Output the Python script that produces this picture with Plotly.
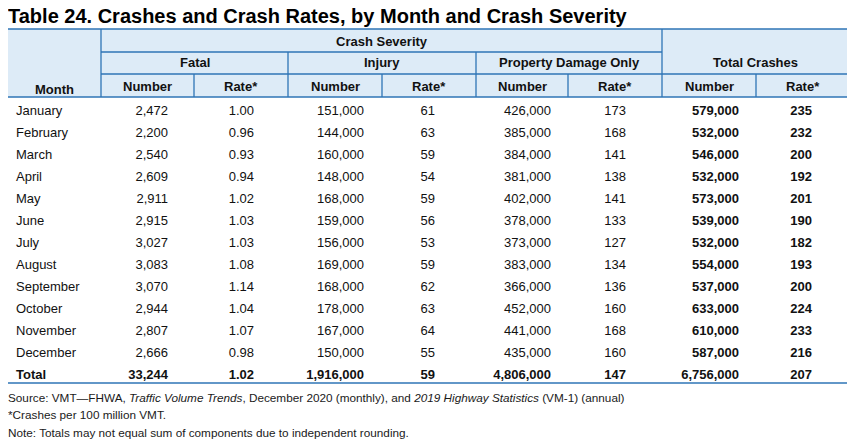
import plotly.graph_objects as go

# ---------------- data ----------------
months = ["January", "February", "March", "April", "May", "June", "July",
          "August", "September", "October", "November", "December"]
fatal_number = [2472, 2200, 2540, 2609, 2911, 2915, 3027, 3083, 3070, 2944, 2807, 2666]
fatal_rate = [1.00, 0.96, 0.93, 0.94, 1.02, 1.03, 1.03, 1.08, 1.14, 1.04, 1.07, 0.98]
injury_number = [151000, 144000, 160000, 148000, 168000, 159000, 156000, 169000,
                 168000, 178000, 167000, 150000]
injury_rate = [61, 63, 59, 54, 59, 56, 53, 59, 62, 63, 64, 55]
pdo_number = [426000, 385000, 384000, 381000, 402000, 378000, 373000, 383000,
              366000, 452000, 441000, 435000]
pdo_rate = [173, 168, 141, 138, 141, 133, 127, 134, 136, 160, 168, 160]
total_number = [579000, 532000, 546000, 532000, 573000, 539000, 532000, 554000,
                537000, 633000, 610000, 587000]
total_rate = [235, 232, 200, 192, 201, 190, 182, 193, 200, 224, 233, 216]

total_label = "Total"
totals_row = [33244, 1.02, 1916000, 59, 4806000, 147, 6756000, 207]

group_labels = ["Fatal", "Injury", "Property Damage Only", "Total Crashes"]
sub_labels = ["Number", "Rate*"]
title_text = "Table 24. Crashes and Crash Rates, by Month and Crash Severity"
footnotes = [
    "Source: VMT\u2014FHWA, <i>Traffic Volume Trends</i>, December 2020 (monthly), and "
    "<i>2019 Highway Statistics</i> (VM-1) (annual)",
    "*Crashes per 100 million VMT.",
    "Note: Totals may not equal sum of components due to independent rounding.",
]

# ---------------- layout helpers ----------------
# The page body has an 8px margin, so the figure is sized to fit the window
# and all positions below are given in window pixels, then converted.
OFF = 8
W, H = 855 - OFF, 447 - OFF
FONT = "Arial, Liberation Sans, sans-serif"
FILL = "#DDEBF7"
LINE = "#2E75B6"
TXT = "#111111"


def px(x):
    return (x - OFF) / W


def py(y):
    return 1 - (y - OFF) / H


def fmt_int(v):
    return f"{v:,}"


def fmt_rate2(v):
    return f"{v:.2f}"


def b(s):
    return f"<b>{s}</b>"


# monthly rows (plain strings, no markup, so rows keep their fixed height)
month_cols = [
    months,
    [fmt_int(v) for v in fatal_number],
    [fmt_rate2(v) for v in fatal_rate],
    [fmt_int(v) for v in injury_number],
    [str(v) for v in injury_rate],
    [fmt_int(v) for v in pdo_number],
    [str(v) for v in pdo_rate],
    [fmt_int(v) for v in total_number],
    [str(v) for v in total_rate],
]
total_cols = [
    [total_label],
    [fmt_int(totals_row[0])],
    [fmt_rate2(totals_row[1])],
    [fmt_int(totals_row[2])],
    [str(totals_row[3])],
    [fmt_int(totals_row[4])],
    [str(totals_row[5])],
    [fmt_int(totals_row[6])],
    [str(totals_row[7])],
]
n_months = len(months)
n_rows = n_months + 1

# grid geometry (window pixels)
left, right = 7, 849
bounds = [7, 101, 194, 288, 382, 476, 568, 662, 756, 849]
y_top, y_r1, y_r2, y_hdr = 29, 52, 74, 97
row_h = 22
y_bottom = y_hdr + n_rows * row_h
y_total = y_hdr + n_months * row_h

# body table column edges: sized so right-aligned numbers land like the source
body_edges = [8, 100, 176, 262, 372, 443, 559, 634, 747, 820]
body_widths = [body_edges[i + 1] - body_edges[i] for i in range(len(body_edges) - 1)]
hdr_h = 20
aligns = ["left"] + ["right"] * 8
clear = "rgba(0,0,0,0)"


def body_table(cols, y0, nrows, weights):
    return go.Table(
        domain=dict(x=[max(0, px(body_edges[0])), px(body_edges[-1])],
                    y=[py(y0 + nrows * row_h + 4), py(y0 - hdr_h)]),
        columnwidth=body_widths,
        header=dict(values=[""] * 9, height=hdr_h, fill_color=clear,
                    line=dict(color=clear, width=0)),
        cells=dict(values=cols, height=row_h, align=aligns, fill_color=clear,
                   line=dict(color=clear, width=0),
                   font=dict(family=FONT, size=13, color=TXT, weight=weights)),
    )


fig = go.Figure()
fig.add_trace(body_table(month_cols, y_hdr, n_months, ["normal"] * 7 + ["bold"] * 2))
fig.add_trace(body_table(total_cols, y_total, 1, ["bold"] * 9))

shapes = []
shapes.append(dict(type="rect", xref="paper", yref="paper",
                   x0=px(left), x1=px(right), y0=py(y_hdr), y1=py(y_top),
                   fillcolor=FILL, line=dict(width=0), layer="below"))


def hline(y, x0, x1):
    shapes.append(dict(type="line", xref="paper", yref="paper",
                       x0=px(x0), x1=px(x1), y0=py(y), y1=py(y),
                       line=dict(color=LINE, width=1.3), layer="above"))


def vline(x, y0, y1):
    shapes.append(dict(type="line", xref="paper", yref="paper",
                       x0=px(x), x1=px(x), y0=py(y0), y1=py(y1),
                       line=dict(color=LINE, width=1.3), layer="above"))


hline(y_top, left, right)
hline(y_r1, bounds[1], bounds[7])
hline(y_r2, bounds[1], right)
hline(y_hdr, left, right)
hline(y_bottom, left, right)
vline(bounds[1], y_top, y_hdr)
vline(bounds[7], y_top, y_hdr)
vline(bounds[3], y_r1, y_hdr)
vline(bounds[5], y_r1, y_hdr)
for i in (2, 4, 6, 8):
    vline(bounds[i], y_r2, y_hdr)

annotations = []


def label(text, x, y, size=13, bold=True, xanchor="center", color=TXT):
    annotations.append(dict(text=b(text) if bold else text, x=px(x), y=py(y),
                            xref="paper", yref="paper", showarrow=False,
                            xanchor=xanchor, yanchor="middle",
                            font=dict(family=FONT, size=size, color=color)))


label(title_text, 6, 16, size=20, xanchor="left", color="#000000")
label("Month", (bounds[0] + bounds[1]) / 2, 89)
label("Crash Severity", (bounds[1] + bounds[7]) / 2, 41)
for g, lab in enumerate(group_labels):
    x0 = bounds[1 + 2 * g]
    x1 = bounds[3 + 2 * g]
    label(lab, (x0 + x1) / 2, 63)
for c in range(8):
    label(sub_labels[c % 2], (bounds[1 + c] + bounds[2 + c]) / 2, 86)

for t, yy in zip(footnotes, [397, 414, 432]):
    label(t, 6, yy, size=11.75, bold=False, xanchor="left", color="#1a1a1a")

fig.update_layout(
    width=W, height=H,
    margin=dict(l=0, r=0, t=0, b=0),
    paper_bgcolor="white", plot_bgcolor="white",
    shapes=shapes, annotations=annotations,
    font=dict(family=FONT),
)

fig.write_html("out.html")
